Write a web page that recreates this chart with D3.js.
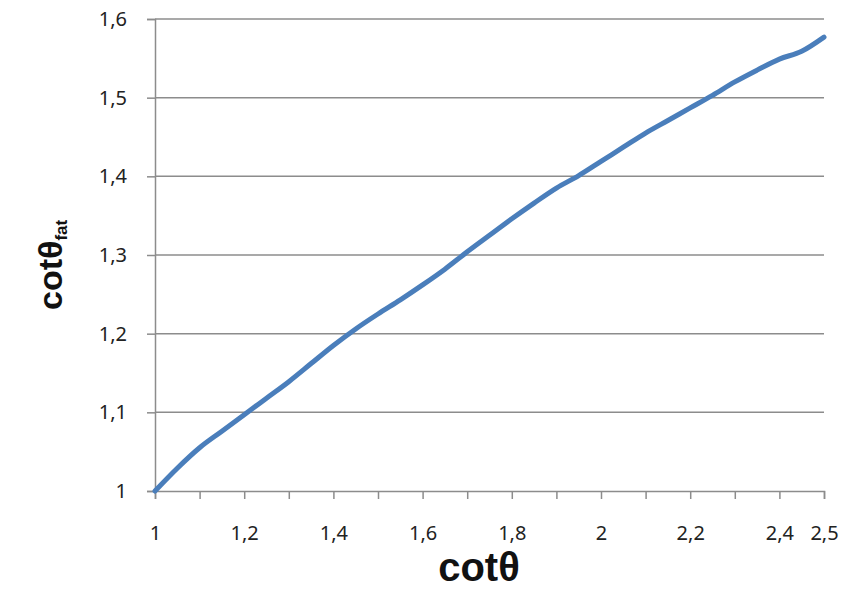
<!DOCTYPE html>
<html>
<head>
<meta charset="utf-8">
<script src="https://cdn.jsdelivr.net/npm/d3@7"></script>
<style>
  body { margin: 0; background: #fff; }
  svg { display: block; }
</style>
</head>
<body>
<div id="chart"></div>
<script>
// Werte
var cotTheta = [1.00, 1.05, 1.10, 1.15, 1.20, 1.25, 1.30, 1.35, 1.40, 1.45, 1.50,
                1.55, 1.60, 1.65, 1.70, 1.75, 1.80, 1.85, 1.90, 1.95, 2.00,
                2.05, 2.10, 2.15, 2.20, 2.25, 2.30, 2.35, 2.40, 2.45, 2.50];
var cotThetaFat = [1.000, 1.029, 1.055, 1.076, 1.097, 1.118, 1.139, 1.162, 1.185, 1.206, 1.225,
                   1.243, 1.262, 1.282, 1.304, 1.325, 1.346, 1.366, 1.385, 1.401, 1.419,
                   1.437, 1.455, 1.471, 1.487, 1.503, 1.520, 1.535, 1.549, 1.559, 1.577];

var xTickMarks = [1.0, 1.1, 1.2, 1.3, 1.4, 1.5, 1.6, 1.7, 1.8, 1.9, 2.0, 2.1, 2.2, 2.3, 2.4, 2.5];
var xTickLabels = [1, 1.2, 1.4, 1.6, 1.8, 2, 2.2, 2.4, 2.5];
var yTicks = [1, 1.1, 1.2, 1.3, 1.4, 1.5, 1.6];

var width = 845;
var height = 589;
var margin = {top: 19, right: 21, bottom: 98, left: 155};

var fmt = function (d) { return String(+d.toFixed(1)).replace('.', ','); };

var x = d3.scaleLinear().domain([1, 2.5]).range([margin.left, width - margin.right]);
var y = d3.scaleLinear().domain([1, 1.6]).range([height - margin.bottom, margin.top]);

var svg = d3.select('#chart').append('svg')
    .attr('width', width)
    .attr('height', height);

// Gitterlinien
svg.append('g')
    .selectAll('line')
    .data(yTicks.slice(1))
    .join('line')
    .attr('x1', x(1)).attr('x2', x(2.5))
    .attr('y1', function (d) { return y(d); })
    .attr('y2', function (d) { return y(d); })
    .attr('stroke', '#8c8c8c')
    .attr('stroke-width', 1.5);

// y-Achse
var yAxis = svg.append('g')
    .attr('transform', 'translate(' + x(1) + ',0)')
    .call(d3.axisLeft(y).tickValues(yTicks).tickSize(8).tickPadding(20).tickFormat(fmt));

// x-Achse (Striche)
var xAxis = svg.append('g')
    .attr('transform', 'translate(0,' + y(1) + ')')
    .call(d3.axisBottom(x).tickValues(xTickMarks).tickSize(8).tickFormat(''));

// x-Achse (Beschriftung)
var xLabels = svg.append('g')
    .attr('transform', 'translate(0,' + y(1) + ')')
    .call(d3.axisBottom(x).tickValues(xTickLabels).tickSize(0).tickPadding(35).tickFormat(fmt));
xLabels.select('.domain').remove();

[yAxis, xAxis].forEach(function (g) {
    g.select('.domain').attr('stroke', '#8c8c8c').attr('stroke-width', 1.5);
    g.selectAll('.tick line').attr('stroke', '#8c8c8c').attr('stroke-width', 1.5);
});
[yAxis, xLabels].forEach(function (g) {
    g.selectAll('text')
        .attr('fill', '#222')
        .style('font-family', '"Noto Sans", sans-serif')
        .style('font-size', '20px');
});

// Kurve
var line = d3.line()
    .x(function (d, i) { return x(cotTheta[i]); })
    .y(function (d) { return y(d); })
    .curve(d3.curveMonotoneX);

svg.append('path')
    .datum(cotThetaFat)
    .attr('d', line)
    .attr('fill', 'none')
    .attr('stroke', '#4a7ebb')
    .attr('stroke-width', 5)
    .attr('stroke-linecap', 'round');

// Achsentitel
svg.append('text')
    .attr('x', 479)
    .attr('y', 581)
    .attr('text-anchor', 'middle')
    .style('font-family', '"Liberation Sans", Arial, sans-serif')
    .style('font-weight', 'bold')
    .style('font-size', '40px')
    .attr('fill', '#111')
    .text('cotθ');

var yTitle = svg.append('text')
    .attr('transform', 'translate(62,310) rotate(-90)')
    .style('font-family', '"Liberation Sans", Arial, sans-serif')
    .style('font-weight', 'bold')
    .style('font-size', '34px')
    .attr('fill', '#111');
yTitle.append('tspan').text('cotθ');
yTitle.append('tspan')
    .attr('dy', 5)
    .style('font-size', '17px')
    .text('fat');
</script>
</body>
</html>
